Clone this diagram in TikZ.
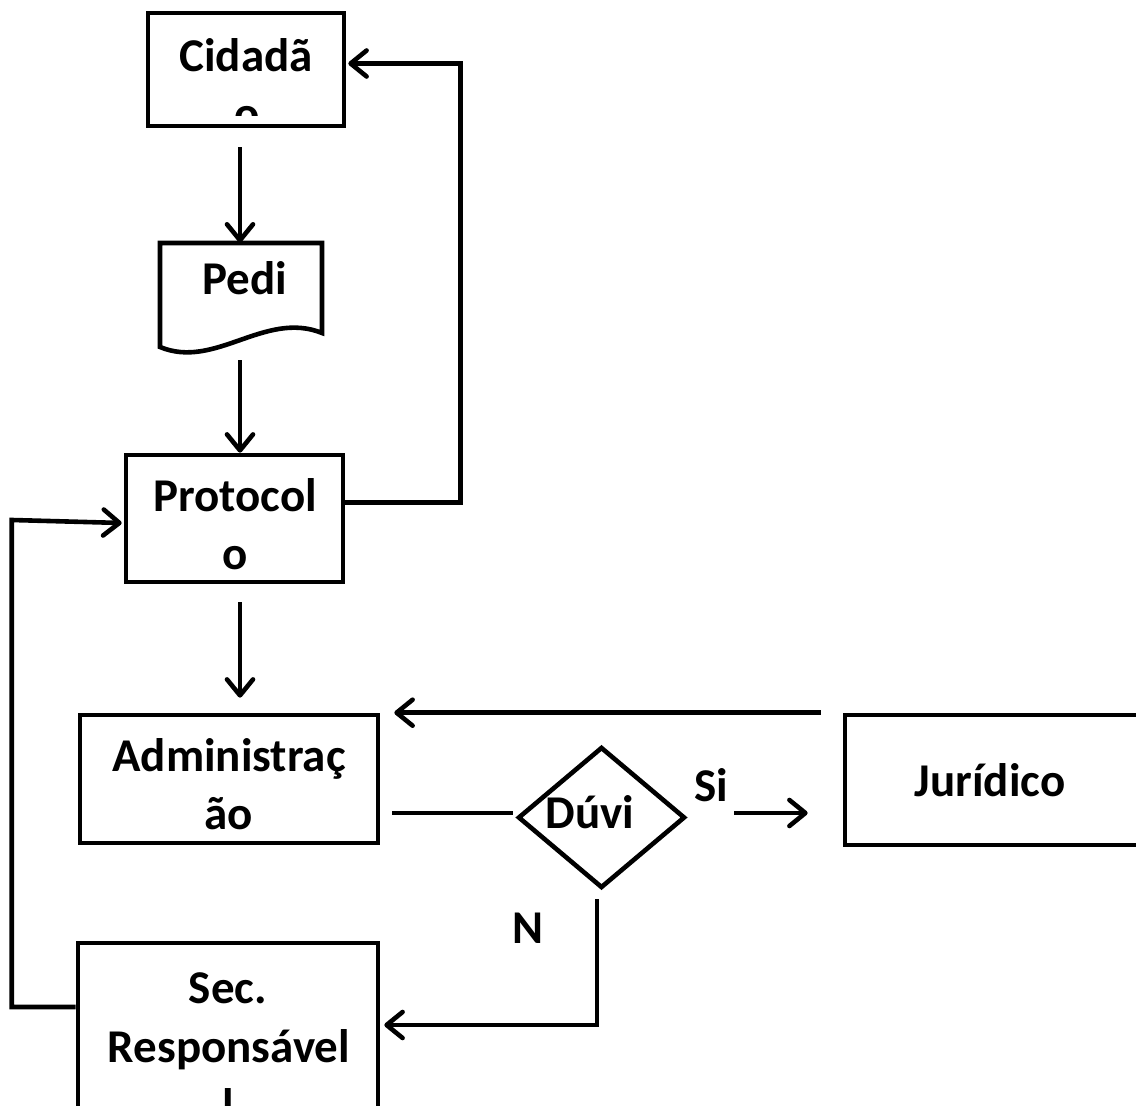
\documentclass[tikz,border=0pt]{standalone}
\usepackage{fontspec}
\setmainfont{Carlito}
\usetikzlibrary{arrows.meta,calc,shapes.geometric}

\begin{document}
\begin{tikzpicture}[x=0.5pt, y=-0.5pt,
        box/.style={draw, line width=2.3pt, inner sep=0pt},
        txt/.style={anchor=base, inner sep=0pt, font=\fontsize{23.5pt}{29pt}\selectfont\bfseries},
        conn/.style={line width=2.3pt},
        arr/.style={conn, -{Straight Barb[length=8pt,width=13pt,round]}}]
                \useasboundingbox (0,0) rectangle (1136,1106);

                \node[box, minimum width=98pt, minimum height=56.5pt] (cid) at (246,69.5) {};
                \node[minimum width=81pt, minimum height=52pt, inner sep=0pt] (ped) at (241,295) {};
                \node[box, minimum width=108.5pt, minimum height=63.5pt] (prot) at (234.5,518.5) {};
                \node[box, minimum width=149pt, minimum height=64pt] (adm) at (229,779) {};
                \node[box, diamond, minimum width=83.5pt, minimum height=70.5pt] (duv) at (601.5,817.5) {};
                \node[box, minimum width=157.5pt, minimum height=65pt] (jur) at (1002.5,780) {};
                \node[box, minimum width=150pt, minimum height=85pt] (sec) at (228,1028) {};

                \draw[conn] (160,243) -- (322,243) -- (322,333) .. controls (265,310) and (215,370) .. (160,347) -- cycle;

                \begin{scope}
                    \clip (cid.north west) rectangle ($(cid.south east)+(0,-13)$);
                    \node[txt] (cid1) at (246,72) {Cidadã};
                    \node[txt] (cid2) at (247,130) {o};
                \end{scope}
                \node[txt] (pedt) at (245,295) {Pedi};
                \begin{scope}
                    \clip (prot.north west) rectangle ($(prot.south east)+(0,-13)$);
                    \node[txt] (prot1) at (235,512) {Protocol};
                    \node[txt] (prot2) at (235,570) {o};
                \end{scope}
                \begin{scope}
                    \clip (adm.north west) rectangle ($(adm.south east)+(0,-11)$);
                    \node[txt] (adm1) at (229,772) {Administraç};
                    \node[txt] (adm2) at (229,830) {ão};
                \end{scope}
                \begin{scope}
                    \clip (sec.north west) rectangle ($(sec.south east)+(0,-5)$);
                    \node[txt] (sec1) at (228,1003) {Sec.};
                    \node[txt] (sec2) at (229,1062) {Responsável};
                    \node[txt] (sec3) at (228,1121) {l};
                \end{scope}
                \node[txt] (jurt) at (990,797) {Jurídico};
                \node[txt] (duvt) at (590,828) {Dúvi};
                \node[txt] (si) at (711,802) {Si};
                \node[txt] (nao) at (528,943) {N};

                \draw[arr] ($(cid.south)+(-6,19)$) -- ($(ped.north)+(-1,0)$);
                \draw[arr] ($(ped.south)+(-1,13)$) -- ($(prot.north)+(5.5,0)$);
                \draw[arr] ($(prot.south)+(5.5,18)$) -- ($(adm.north)+(11,-15)$);
                \draw[arr] ($(prot.east)+(0,-16)$) -- ++(115,0) |- ($(cid.east)+(2,-6)$);
                \draw[arr] ($(sec.west)+(0,-21)$) -- ++(-64,0) -- ++(0,-487) -- ($(prot.west)+(-2,4.5)$);
                \draw[arr] ($(jur.north west)+(-22,0)$) -- ($(adm.north east)+(14,0)$);
                \draw[conn] ($(adm.east)+(12,34)$) -- ($(duv.west)+(-3,-4.5)$);
                \draw[arr] ($(duv.east)+(47,-4.5)$) -- ($(jur.west)+(-35,33)$);
                \draw[arr] ($(duv.south)+(-4.5,9)$) |- ($(sec.east)+(4,-3)$);
\end{tikzpicture}
\end{document}
